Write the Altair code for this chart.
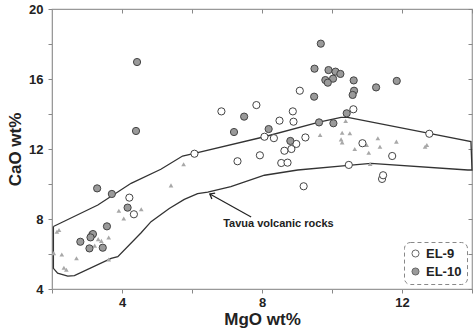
import altair as alt
import pandas as pd
import math

# ---- data ----
el9_x = [4.21, 4.34, 3.15, 6.07, 6.84, 7.30, 7.84, 8.50, 8.07, 8.34, 7.94, 8.64, 8.55, 8.73,
         9.08, 8.88, 8.90, 9.24, 8.98, 8.84, 10.61, 10.87, 11.72, 12.78, 10.48, 9.19, 11.43, 11.46]
el9_y = [9.22, 8.27, 7.10, 11.73, 14.15, 11.30, 14.51, 13.62, 12.70, 12.62, 11.64, 11.90, 11.20, 11.22,
         15.33, 14.15, 13.56, 12.66, 12.29, 12.00, 14.27, 12.33, 11.60, 12.87, 11.09, 9.87, 10.29, 10.50]

el10_x = [4.43, 4.40, 7.20, 9.68, 9.50, 9.90, 10.10, 10.24, 9.81, 10.03, 9.88, 10.62, 10.63, 10.59,
          11.26, 11.85, 9.49, 7.49, 8.19, 10.42, 9.63, 10.04, 8.81, 3.29, 3.71, 4.16, 3.57, 3.17,
          3.10, 2.81, 3.07, 3.45]
el10_y = [16.97, 13.03, 12.97, 18.02, 16.59, 16.51, 16.42, 16.29, 15.94, 16.02, 15.79, 15.92, 15.33, 15.09,
          15.52, 15.89, 14.99, 13.85, 13.14, 14.04, 13.52, 13.47, 12.46, 9.75, 9.43, 8.65, 7.58, 7.14,
          6.95, 6.70, 6.32, 6.36]

tri_x = [2.20, 2.14, 2.05, 2.28, 2.34, 2.41, 2.70, 3.32, 3.41, 3.62, 3.22, 3.62, 3.91, 4.05, 4.55,
         5.40, 5.76, 9.66, 10.39, 10.29, 10.51, 10.26, 10.29, 10.65, 10.99, 11.05, 11.31, 11.37,
         11.84, 12.66, 12.71, 11.09]
tri_y = [7.37, 7.27, 6.05, 5.97, 5.21, 5.10, 5.76, 6.85, 6.75, 6.94, 6.48, 5.69, 8.47, 8.03, 8.56,
         9.92, 11.13, 12.80, 13.60, 12.93, 12.90, 12.55, 12.38, 12.00, 12.23, 11.79, 12.61, 12.13,
         12.42, 12.13, 12.23, 11.14]

field_x = [2.04, 3.31, 4.26, 5.11, 5.73, 6.07, 8.07, 9.63, 10.26, 10.45, 12.78, 13.97, 14.00,
           13.88, 11.11, 10.47, 9.02, 8.07, 7.11, 6.45, 6.16, 5.78, 5.35, 4.83, 4.54, 3.88, 3.69,
           2.64, 2.45, 2.16, 2.04, 2.04]
field_y = [7.57, 8.80, 10.04, 10.84, 11.60, 11.75, 12.70, 13.53, 13.81, 13.81, 12.89, 12.42, 10.80,
           10.80, 11.18, 11.07, 10.80, 10.50, 9.85, 9.53, 9.45, 9.12, 8.60, 7.85, 7.20, 5.85, 5.75,
           4.76, 4.74, 4.90, 5.18, 7.57]

arrow_x = [7.69, 6.51]   # tail, tip
arrow_y = [8.11, 9.43]
label_text = "Tavua volcanic rocks"
label_x = [6.89]
label_y = [7.71]

x_ticks = [2, 4, 6, 8, 10, 12, 14]
y_ticks = [4, 6, 8, 10, 12, 14, 16, 18, 20]

W, H = 420, 280
XD, YD = [2, 14], [4, 20]

pts = pd.DataFrame({
    "x": el9_x + el10_x,
    "y": el9_y + el10_y,
    "sample": ["EL-9"] * len(el9_x) + ["EL-10"] * len(el10_x),
})
tri = pd.DataFrame({"x": tri_x, "y": tri_y})
field = pd.DataFrame({"x": field_x, "y": field_y, "o": list(range(len(field_x)))})
arrow = pd.DataFrame({"x": arrow_x, "y": arrow_y, "o": [0, 1]})
label = pd.DataFrame({"x": label_x, "y": label_y, "t": [label_text]})

xs = alt.Scale(domain=XD, nice=False, zero=False)
ys = alt.Scale(domain=YD, nice=False, zero=False)

FONT = "Liberation Sans"

x_bottom = alt.X("x:Q", scale=xs, axis=alt.Axis(
    orient="bottom", values=x_ticks, title="MgO wt%", grid=False,
    labelExpr="(datum.value % 4 == 0 && datum.value > 2 && datum.value < 14) ? datum.label : ''",
    tickSize=4, labelPadding=3, titlePadding=2))
y_left = alt.Y("y:Q", scale=ys, axis=alt.Axis(
    orient="left", values=y_ticks, title="CaO wt%", grid=False,
    labelExpr="datum.value % 4 == 0 ? datum.label : ''",
    tickSize=4, labelPadding=5, titlePadding=4))

x_top = alt.X("x:Q", scale=xs, axis=alt.Axis(
    orient="top", values=x_ticks, title=None, labels=False, domain=False, grid=False,
    tickSize=4, offset=-4))
y_right = alt.Y("y:Q", scale=ys, axis=alt.Axis(
    orient="right", values=y_ticks, title=None, labels=False, domain=False, grid=False,
    tickSize=4, offset=-4))

xn = alt.X("x:Q", scale=xs, axis=None)
yn = alt.Y("y:Q", scale=ys, axis=None)

field_layer = alt.Chart(field).mark_line(color="#333333", strokeWidth=1.3).encode(
    x=x_top, y=y_right, order="o:Q")

tri_layer = alt.Chart(tri).mark_point(shape="triangle-up", filled=True, color="#a8a8a8",
                                      size=22, opacity=1).encode(x=xn, y=yn)

pts_layer = alt.Chart(pts).mark_point(shape="circle", filled=True, size=52,
                                      stroke="#444444", strokeWidth=1, opacity=1).encode(
    x=x_bottom, y=y_left,
    fill=alt.Fill("sample:N", scale=alt.Scale(domain=["EL-9", "EL-10"], range=["#ffffff", "#9a9a9a"]),
                  legend=alt.Legend(title=None, orient="bottom-right", offset=5,
                                    symbolType="circle", symbolSize=50,
                                    symbolStrokeColor="#666666", symbolStrokeWidth=1,
                                    labelFont=FONT, labelFontSize=13, labelFontWeight="bold",
                                    labelColor="#222222")))

arrow_line = alt.Chart(arrow).mark_line(color="#222222", strokeWidth=1.2).encode(
    x=xn, y=yn, order="o:Q")

dx = (arrow_x[1] - arrow_x[0]) * W / (XD[1] - XD[0])
dy = -(arrow_y[1] - arrow_y[0]) * H / (YD[1] - YD[0])
ang = (math.degrees(math.atan2(dy, dx)) + 360) % 360
arrow_head = alt.Chart(arrow.iloc[[1]]).mark_point(
    shape="M-1,-0.8L0,0L-1,0.8", filled=False, stroke="#222222", strokeWidth=1.3,
    size=70, angle=ang, opacity=1).encode(x=xn, y=yn)

text_layer = alt.Chart(label).mark_text(align="left", baseline="middle", font=FONT,
                                        fontSize=11, fontWeight="bold", color="#222222").encode(
    x=xn, y=yn, text="t:N")

chart = alt.layer(
    field_layer, tri_layer, arrow_line, arrow_head, text_layer, pts_layer
).resolve_axis(x="independent", y="independent").properties(
    width=W, height=H,
    autosize=alt.AutoSizeParams(type="none"),
    padding={"left": 52, "top": 9, "right": 2, "bottom": 44},
).configure_view(stroke="#999999", strokeWidth=1.2).configure_axis(
    domainColor="#999999", tickColor="#888888", labelFont=FONT, labelFontSize=13,
    labelFontWeight="bold", labelColor="#222222", titleFont=FONT, titleFontSize=17,
    titleFontWeight="bold", titleColor="#222222"
).configure_legend(
    strokeColor="#888888", strokeDash=[4, 3], cornerRadius=6, padding=5, rowPadding=4)

chart.save("out.html", embed_options={"renderer": "svg", "actions": False})
